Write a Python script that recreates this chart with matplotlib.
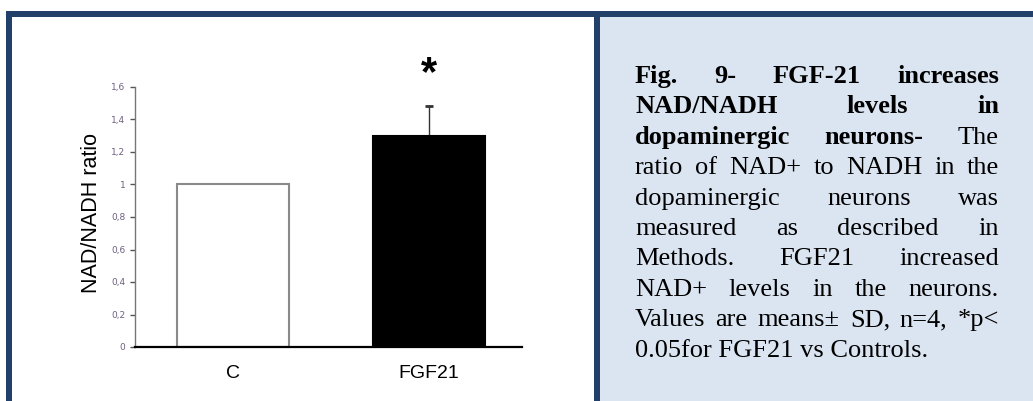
import matplotlib
matplotlib.use("Agg")
import matplotlib.pyplot as plt
from matplotlib.patches import Rectangle

# data
groups = ["C", "FGF21"]
ratio = [1.0, 1.3]
sd = [0.0, 0.18]
bar_fill = ["white", "black"]
bar_edge = ["#8a8a8a", "black"]
yticks = [0, 0.2, 0.4, 0.6, 0.8, 1.0, 1.2, 1.4, 1.6]
ytick_labels = ["0", "0,2", "0,4", "0,6", "0,8", "1", "1,2", "1,4", "1,6"]

# caption, one list per printed line: (word, bold)
caption = [
    [("Fig.", 1), ("9-", 1), ("FGF-21", 1), ("increases", 1)],
    [("NAD/NADH", 1), ("levels", 1), ("in", 1)],
    [("dopaminergic", 1), ("neurons-", 1), ("The", 0)],
    [("ratio", 0), ("of", 0), ("NAD+", 0), ("to", 0), ("NADH", 0), ("in", 0), ("the", 0)],
    [("dopaminergic", 0), ("neurons", 0), ("was", 0)],
    [("measured", 0), ("as", 0), ("described", 0), ("in", 0)],
    [("Methods.", 0), ("FGF21", 0), ("increased", 0)],
    [("NAD+", 0), ("levels", 0), ("in", 0), ("the", 0), ("neurons.", 0)],
    [("Values", 0), ("are", 0), ("means\u00b1", 0), ("SD,", 0), ("n=4,", 0), ("*p<", 0)],
    [("0.05for FGF21 vs Controls.", 0)],
]

W, H = 1033, 401
fig = plt.figure(figsize=(W / 100, H / 100), dpi=100)
fig.patch.set_facecolor("white")

def px_rect(x0, y0, x1, y1, color):
    # rectangle given in image pixels (top-left origin)
    fig.patches.append(Rectangle((x0 / W, 1 - y1 / H), (x1 - x0) / W, (y1 - y0) / H,
                                 transform=fig.transFigure, facecolor=color,
                                 edgecolor="none", zorder=0))

navy = "#23406b"
px_rect(600, 17, W, H, "#dbe5f1")
px_rect(6, 11, W, 17, navy)
px_rect(6, 11, 12, H, navy)
px_rect(594, 17, 600, H, navy)

# bar chart
ax = fig.add_axes([135 / W, 54 / H, (522 - 135) / W, 260 / H])
ax.set_facecolor("none")
x = list(range(len(groups)))
ax.bar(x, ratio, width=0.571, color=bar_fill, edgecolor=bar_edge, linewidth=1.5, zorder=2)
ex = [x[i] for i in range(len(x)) if sd[i] > 0]
ey = [ratio[i] for i in range(len(x)) if sd[i] > 0]
es = [sd[i] for i in range(len(x)) if sd[i] > 0]
ax.errorbar(ex, ey, yerr=[[0] * len(es), es], fmt="none", ecolor="#333333",
            elinewidth=1, capsize=3, capthick=2, zorder=1)
ax.set_xlim(-0.5, 1.474)
ax.set_ylim(0, 1.6)
for s in ["top", "right"]:
    ax.spines[s].set_visible(False)
ax.spines["left"].set_color("#777777")
ax.spines["left"].set_linewidth(1)
ax.spines["bottom"].set_color("black")
ax.spines["bottom"].set_linewidth(1.6)
ax.spines["bottom"].set_zorder(3)

ax.set_yticks(yticks)
ax.set_yticklabels(ytick_labels)
ax.tick_params(axis="y", direction="out", length=3.5, width=1, color="#555555",
               labelsize=6.5, labelcolor="#6e5f80", pad=3.5)
ax.set_xticks(x)
ax.set_xticklabels(groups, fontsize=14, family="Liberation Sans")
ax.tick_params(axis="x", length=0, pad=13)

ax.set_ylabel("NAD/NADH ratio", fontsize=15.5, family="Liberation Sans")
ax.yaxis.set_label_coords(-0.085, 0.515)

ax.text(1, 1.68, "*", ha="center", va="center", fontsize=30, fontweight="bold",
        family="Liberation Sans", clip_on=False)

# justified caption
fig.canvas.draw()
r = fig.canvas.get_renderer()
left, right = 635, 999
for i, line in enumerate(caption):
    yb = 1 - (83 + i * 30.4) / H
    texts = []
    for word, bold in line:
        t = fig.text(0, yb, word, fontsize=19, family="Liberation Serif",
                     fontweight="bold" if bold else "normal", va="baseline", ha="left")
        texts.append(t)
    widths = [t.get_window_extent(r).width for t in texts]
    if len(texts) > 1:
        gap = (right - left - sum(widths)) / (len(texts) - 1)
    else:
        gap = 0
    xpos = left
    for t, w in zip(texts, widths):
        t.set_x(xpos / W)
        xpos += w + gap

fig.savefig("out.png", dpi=100)
